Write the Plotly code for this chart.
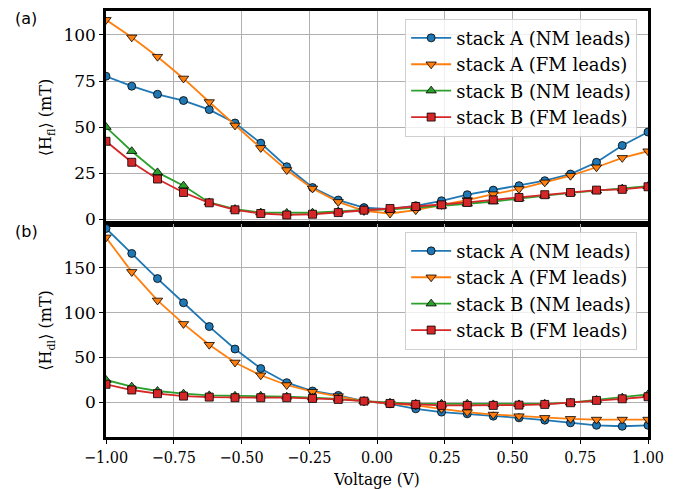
import plotly.graph_objects as go
from plotly.subplots import make_subplots

voltage = [-1.0, -0.905, -0.81, -0.714, -0.619, -0.524, -0.429, -0.333, -0.238, -0.143, -0.048,
           0.048, 0.143, 0.238, 0.333, 0.429, 0.524, 0.619, 0.714, 0.81, 0.905, 1.0]

names = ["stack A (NM leads)", "stack A (FM leads)", "stack B (NM leads)", "stack B (FM leads)"]
colors = ["#1f77b4", "#ff7f0e", "#2ca02c", "#d62728"]
symbols = ["circle", "triangle-down", "triangle-up", "square"]

hfl_A_NM = [77.6, 72.2, 67.8, 64.4, 59.5, 52.2, 41.3, 28.5, 17.2, 10.4, 6.3, 5.4, 7.3, 10.0, 13.3, 15.8, 18.2, 20.9, 24.5, 30.9, 40.0, 47.3]
hfl_A_FM = [108.2, 98.7, 88.2, 76.4, 63.6, 50.9, 38.7, 26.7, 16.7, 9.4, 4.5, 3.1, 4.9, 7.8, 10.4, 13.6, 16.4, 20.0, 23.6, 28.2, 33.3, 36.9]
hfl_B_NM = [50.0, 36.9, 25.4, 18.2, 9.1, 5.5, 3.6, 3.4, 3.5, 4.2, 5.0, 5.3, 6.2, 7.2, 8.4, 9.6, 11.2, 12.8, 14.3, 15.5, 16.6, 17.9]
hfl_B_FM = [42.3, 30.9, 21.8, 14.5, 8.9, 5.1, 3.1, 2.3, 2.7, 3.6, 4.9, 5.8, 6.9, 7.8, 9.1, 10.5, 11.8, 13.3, 14.5, 15.8, 16.2, 17.6]

hdl_A_NM = [194.0, 166.1, 138.0, 111.0, 84.4, 59.3, 37.5, 21.7, 12.4, 7.5, 1.1, -1.9, -7.5, -11.2, -13.1, -15.7, -17.6, -20.2, -23.2, -25.9, -27.0, -25.9]
hdl_A_FM = [184.0, 145.5, 113.6, 87.4, 64.1, 44.3, 30.0, 19.1, 11.6, 6.7, 1.0, -1.6, -3.7, -7.5, -11.2, -13.9, -15.7, -17.6, -18.7, -19.5, -19.5, -19.5]
hdl_B_NM = [24.7, 17.2, 12.4, 9.4, 7.5, 7.0, 7.0, 6.0, 5.0, 3.7, 1.1, -0.7, -1.9, -1.9, -1.9, -2.6, -2.6, -1.9, -0.7, 2.3, 4.9, 8.6]
hdl_B_FM = [19.9, 13.5, 9.4, 6.7, 5.6, 4.9, 4.9, 4.9, 4.1, 3.0, 1.1, -1.5, -2.6, -3.7, -3.7, -3.7, -3.4, -2.6, -0.7, 1.9, 3.7, 6.0]

x_ticks = [-1.0, -0.75, -0.5, -0.25, 0.0, 0.25, 0.5, 0.75, 1.0]
top_yticks = [0, 25, 50, 75, 100]
bot_yticks = [0, 50, 100, 150]

top_series = [hfl_A_NM, hfl_A_FM, hfl_B_NM, hfl_B_FM]
bot_series = [hdl_A_NM, hdl_A_FM, hdl_B_NM, hdl_B_FM]

SERIF = "DejaVu Serif"
XFONT = "DejaVu Serif Condensed, DejaVu Serif"

fig = make_subplots(rows=2, cols=1, shared_xaxes=True, vertical_spacing=0)

for row, series, leg in [(1, top_series, "legend"), (2, bot_series, "legend2")]:
    for i, (name, ys, c, s) in enumerate(zip(names, series, colors, symbols)):
        fig.add_trace(go.Scatter(
            x=voltage, y=ys, name=name, mode="lines+markers", legend=leg,
            line=dict(color=c, width=1.8),
            marker=dict(symbol=s, size=8 if s in ("circle", "square") else 9, color=c,
                        line=dict(color="black", width=0.8)),
        ), row=row, col=1)

axis_common = dict(showline=True, linewidth=2.5, linecolor="black", mirror=True,
                   showgrid=True, gridcolor="#b0b0b0", gridwidth=1,
                   ticks="outside", ticklen=4, tickwidth=1.2, tickcolor="black",
                   zeroline=False, automargin=False)

fig.update_xaxes(range=[-1, 1], tickvals=x_ticks, tickformat=".2f", **axis_common)
fig.update_xaxes(showticklabels=False, row=1, col=1)
fig.update_xaxes(title=dict(text="Voltage (V)", font=dict(family=XFONT, size=17, color="black"), standoff=8),
                 tickfont=dict(family=XFONT, size=16, color="black"), row=2, col=1)

fig.update_yaxes(range=[-2.6, 113], tickvals=top_yticks, tickfont=dict(family=SERIF, size=17, color="black"),
                 title=dict(text="⟨H<sub>fl</sub>⟩ (mT)", font=dict(family=SERIF, size=16, color="black"), standoff=8),
                 row=1, col=1, **axis_common)
fig.update_yaxes(range=[-39, 199], tickvals=bot_yticks, tickfont=dict(family=SERIF, size=17, color="black"),
                 title=dict(text="⟨H<sub>dl</sub>⟩ (mT)", font=dict(family=SERIF, size=16, color="black"), standoff=8),
                 row=2, col=1, **axis_common)

legend_style = dict(xanchor="right", yanchor="top", x=0.98,
                    bgcolor="rgba(255,255,255,0.8)", bordercolor="#d0d0d0", borderwidth=1,
                    font=dict(family=SERIF, size=18, color="black"),
                    itemwidth=40, tracegroupgap=0)

plot_w = 691 - 106 - 43
plot_h = 489 - 11 - 52

fig.update_layout(
    width=691, height=489,
    margin=dict(l=106, r=43, t=11, b=52),
    paper_bgcolor="white", plot_bgcolor="white",
    legend=dict(y=0.982, **legend_style),
    legend2=dict(y=0.482, **legend_style),
    annotations=[
        dict(text="(a)", x=(26 - 106) / plot_w, y=(489 - 52 - 18) / plot_h, xref="paper", yref="paper",
             xanchor="center", yanchor="middle",
             showarrow=False, font=dict(family="DejaVu Sans", size=16, color="black")),
        dict(text="(b)", x=(26 - 106) / plot_w, y=(489 - 52 - 231) / plot_h, xref="paper", yref="paper",
             xanchor="center", yanchor="middle",
             showarrow=False, font=dict(family="DejaVu Sans", size=16, color="black")),
    ],
)

fig.write_html("out.html")
